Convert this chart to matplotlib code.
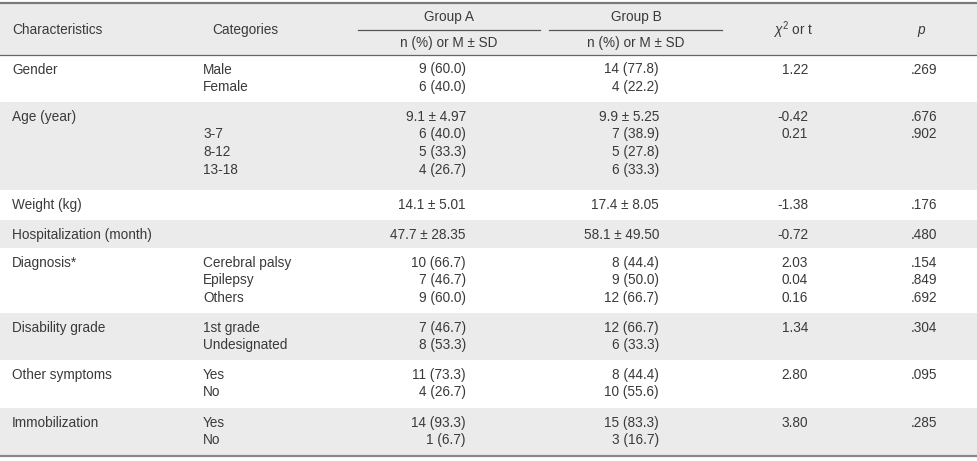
import matplotlib
matplotlib.use("Agg")
import matplotlib.pyplot as plt
from matplotlib.patches import Rectangle

plt.rcParams['font.family'] = ['Liberation Sans', 'DejaVu Sans']
plt.rcParams['mathtext.fontset'] = 'custom'
plt.rcParams['mathtext.it'] = 'Liberation Sans:italic'
plt.rcParams['mathtext.rm'] = 'Liberation Sans'

# table content
characteristics = ["Gender", "Age (year)", "Weight (kg)", "Hospitalization (month)",
                   "Diagnosis*", "Disability grade", "Other symptoms", "Immobilization"]
categories = [["Male", "Female"],
              ["", "3-7", "8-12", "13-18"],
              [""],
              [""],
              ["Cerebral palsy", "Epilepsy", "Others"],
              ["1st grade", "Undesignated"],
              ["Yes", "No"],
              ["Yes", "No"]]
group_a = [["9 (60.0)", "6 (40.0)"],
           ["9.1 \u00b1 4.97", "6 (40.0)", "5 (33.3)", "4 (26.7)"],
           ["14.1 \u00b1 5.01"],
           ["47.7 \u00b1 28.35"],
           ["10 (66.7)", "7 (46.7)", "9 (60.0)"],
           ["7 (46.7)", "8 (53.3)"],
           ["11 (73.3)", "4 (26.7)"],
           ["14 (93.3)", "1 (6.7)"]]
group_b = [["14 (77.8)", "4 (22.2)"],
           ["9.9 \u00b1 5.25", "7 (38.9)", "5 (27.8)", "6 (33.3)"],
           ["17.4 \u00b1 8.05"],
           ["58.1 \u00b1 49.50"],
           ["8 (44.4)", "9 (50.0)", "12 (66.7)"],
           ["12 (66.7)", "6 (33.3)"],
           ["8 (44.4)", "10 (55.6)"],
           ["15 (83.3)", "3 (16.7)"]]
stat = [["1.22"], ["-0.42", "0.21"], ["-1.38"], ["-0.72"],
        ["2.03", "0.04", "0.16"], ["1.34"], ["2.80"], ["3.80"]]
pvals = [[".269"], [".676", ".902"], [".176"], [".480"],
         [".154", ".849", ".692"], [".304"], [".095"], [".285"]]

# layout (pixels)
W, H = 977, 461
row_edges = [55, 102, 190, 220, 248, 313, 360, 408, 456]
line_h = 17.7
fs = 9.8
txt = "#3a3a3a"
shade = "#ebebeb"

fig = plt.figure(figsize=(W / 100, H / 100), dpi=100)
ax = fig.add_axes([0, 0, 1, 1])
ax.set_xlim(0, W)
ax.set_ylim(H, 0)
ax.axis("off")

# header
ax.add_patch(Rectangle((0, 3), W, row_edges[0] - 3, color=shade, lw=0))
ax.text(12, 30, "Characteristics", fontsize=fs, color=txt, va="center")
ax.text(245, 30, "Categories", fontsize=fs, color=txt, va="center", ha="center")
ax.text(449, 17, "Group A", fontsize=fs, color=txt, va="center", ha="center")
ax.text(636, 17, "Group B", fontsize=fs, color=txt, va="center", ha="center")
ax.text(449, 43, "n (%) or M \u00b1 SD", fontsize=fs, color=txt, va="center", ha="center")
ax.text(636, 43, "n (%) or M \u00b1 SD", fontsize=fs, color=txt, va="center", ha="center")
ax.text(793, 30, r"$\chi^2$ or t", fontsize=fs, color=txt, va="center", ha="center")
ax.text(921, 30, "p", fontsize=fs, color=txt, va="center", ha="center", style="italic")

ax.plot([0, W], [3, 3], color="#7a7a7a", lw=1.6)
ax.plot([358, 540], [30, 30], color="#555555", lw=0.9)
ax.plot([549, 722], [30, 30], color="#555555", lw=0.9)
ax.plot([0, W], [row_edges[0], row_edges[0]], color="#666666", lw=0.9)

# body
for i, name in enumerate(characteristics):
    top, bot = row_edges[i], row_edges[i + 1]
    if i % 2 == 1:
        ax.add_patch(Rectangle((0, top), W, bot - top, color=shade, lw=0))
    y0 = top + 14.5
    ax.text(12, y0, name, fontsize=fs, color=txt, va="center")
    for j, c in enumerate(categories[i]):
        ax.text(203, y0 + j * line_h, c, fontsize=fs, color=txt, va="center")
    for j, v in enumerate(group_a[i]):
        ax.text(466, y0 + j * line_h, v, fontsize=fs, color=txt, va="center", ha="right")
    for j, v in enumerate(group_b[i]):
        ax.text(659, y0 + j * line_h, v, fontsize=fs, color=txt, va="center", ha="right")
    for j, v in enumerate(stat[i]):
        ax.text(808, y0 + j * line_h, v, fontsize=fs, color=txt, va="center", ha="right")
    for j, v in enumerate(pvals[i]):
        ax.text(937, y0 + j * line_h, v, fontsize=fs, color=txt, va="center", ha="right")

ax.plot([0, W], [row_edges[-1], row_edges[-1]], color="#888888", lw=1.6)

fig.savefig("out.png", dpi=100)
